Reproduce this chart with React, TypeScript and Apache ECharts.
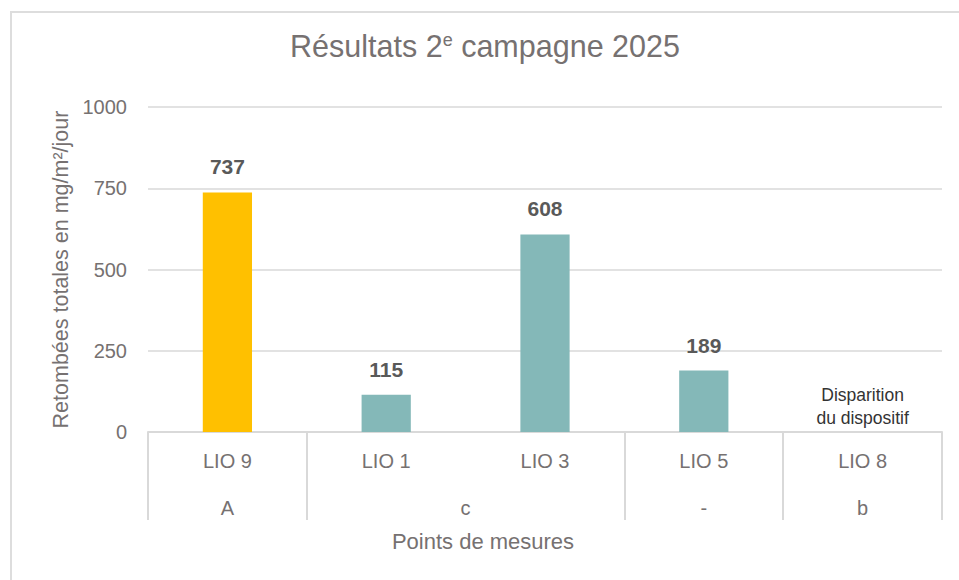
import React, { useEffect, useRef } from 'react';
import * as echarts from 'echarts';

// ---- Data ----
const categories = ['LIO 9', 'LIO 1', 'LIO 3', 'LIO 5', 'LIO 8'];
const values: (number | null)[] = [737, 115, 608, 189, null];
const barColors = ['#FFC000', '#84B8B8', '#84B8B8', '#84B8B8', '#84B8B8'];
const groupLabels = ['A', 'c', '-', 'b'];
const groupSpans = [1, 2, 1, 1];
const yTicks = [0, 250, 500, 750, 1000];
const missingCategory = 'LIO 8';
const missingNote = 'Disparition\ndu dispositif';
const titleParts = ['Résultats 2', 'e', ' campagne 2025'];
const yAxisTitle = 'Retombées totales en mg/m²/jour';
const xAxisTitle = 'Points de mesures';

// derived group bounds / centres (in category units)
const groupBounds: number[] = [0];
groupSpans.forEach((s) => groupBounds.push(groupBounds[groupBounds.length - 1] + s));
const groupCenters = groupSpans.map((s, i) => groupBounds[i] + s / 2);

const FONT = "'Liberation Sans', Arial, sans-serif";
const GREY = '#767171';
const LINE = '#d9d9d9';

export default function App() {
  const ref = useRef<HTMLDivElement>(null);
  useEffect(() => {
    if (!ref.current) return;
    const chart = echarts.init(ref.current, null, { renderer: 'svg' });
    const option: any = {
      animation: false,
      backgroundColor: '#ffffff',
      grid: { left: 148, right: 17, top: 107, bottom: 148 },
      graphic: [
        {
          type: 'rect',
          shape: { x: 11, y: 12, width: 1200, height: 1000 },
          style: { fill: 'none', stroke: '#dddddd', lineWidth: 2 },
          silent: true,
        },
        {
          type: 'text',
          x: 485,
          y: 46,
          style: {
            text: `{a|${titleParts[0]}}{s|${titleParts[1]}}{a|${titleParts[2]}}`,
            textAlign: 'center',
            textVerticalAlign: 'middle',
            rich: {
              a: { fontSize: 30.5, fontFamily: FONT, fill: GREY, color: GREY },
              s: { fontSize: 18, fontFamily: FONT, fill: GREY, color: GREY, verticalAlign: 'top' },
            },
          },
        },
        {
          type: 'text',
          x: 483,
          y: 541,
          style: {
            text: xAxisTitle,
            textAlign: 'center',
            textVerticalAlign: 'middle',
            fontSize: 22,
            fontFamily: FONT,
            fill: GREY,
          },
        },
      ],
      xAxis: [
        {
          type: 'category',
          data: categories,
          position: 'bottom',
          axisLine: { show: true, lineStyle: { color: LINE, width: 2 } },
          axisTick: { show: false },
          axisLabel: { fontSize: 20, fontFamily: FONT, color: GREY, margin: 19 },
        },
        {
          type: 'value',
          min: groupBounds[0],
          max: groupBounds[groupBounds.length - 1],
          position: 'bottom',
          axisLine: { show: false },
          splitLine: { show: false },
          axisTick: {
            show: true,
            customValues: groupBounds,
            length: 88,
            lineStyle: { color: LINE, width: 2 },
          },
          axisLabel: {
            customValues: groupCenters,
            formatter: (v: number) => {
              const i = groupCenters.indexOf(v);
              return i >= 0 ? groupLabels[i] : '';
            },
            fontSize: 20,
            fontFamily: FONT,
            color: GREY,
            margin: 66,
          },
        },
      ],
      yAxis: {
        type: 'value',
        min: yTicks[0],
        max: yTicks[yTicks.length - 1],
        interval: yTicks[1] - yTicks[0],
        name: yAxisTitle,
        nameLocation: 'middle',
        nameGap: 76,
        nameRotate: 90,
        nameTextStyle: { fontSize: 21.5, fontFamily: FONT, color: GREY },
        axisLine: { show: false },
        axisTick: { show: false },
        axisLabel: {
          fontSize: 20,
          fontFamily: FONT,
          color: GREY,
          margin: 21,
          formatter: (v: number) => String(v),
        },
        splitLine: { lineStyle: { color: LINE, width: 1.5 } },
      },
      series: [
        {
          type: 'bar',
          xAxisIndex: 0,
          yAxisIndex: 0,
          barWidth: '31%',
          data: values.map((v, i) => ({ value: v, itemStyle: { color: barColors[i] } })),
          label: {
            show: true,
            position: 'top',
            distance: 15,
            fontSize: 21,
            fontWeight: 'bold',
            fontFamily: FONT,
            color: '#595959',
          },
          markPoint: {
            symbol: 'rect',
            symbolSize: 0,
            itemStyle: { color: 'transparent' },
            data: [
              {
                coord: [missingCategory, 0],
                label: {
                  show: true,
                  position: 'top',
                  distance: 3,
                  formatter: missingNote,
                  fontSize: 17.5,
                  lineHeight: 23,
                  fontFamily: FONT,
                  color: '#333333',
                },
              },
            ],
          },
        },
      ],
    };
    chart.setOption(option);
    return () => chart.dispose();
  }, []);
  return (
    <div
      ref={ref}
      style={{ position: 'fixed', left: 0, top: 0, width: 959, height: 580 }}
    />
  );
}
